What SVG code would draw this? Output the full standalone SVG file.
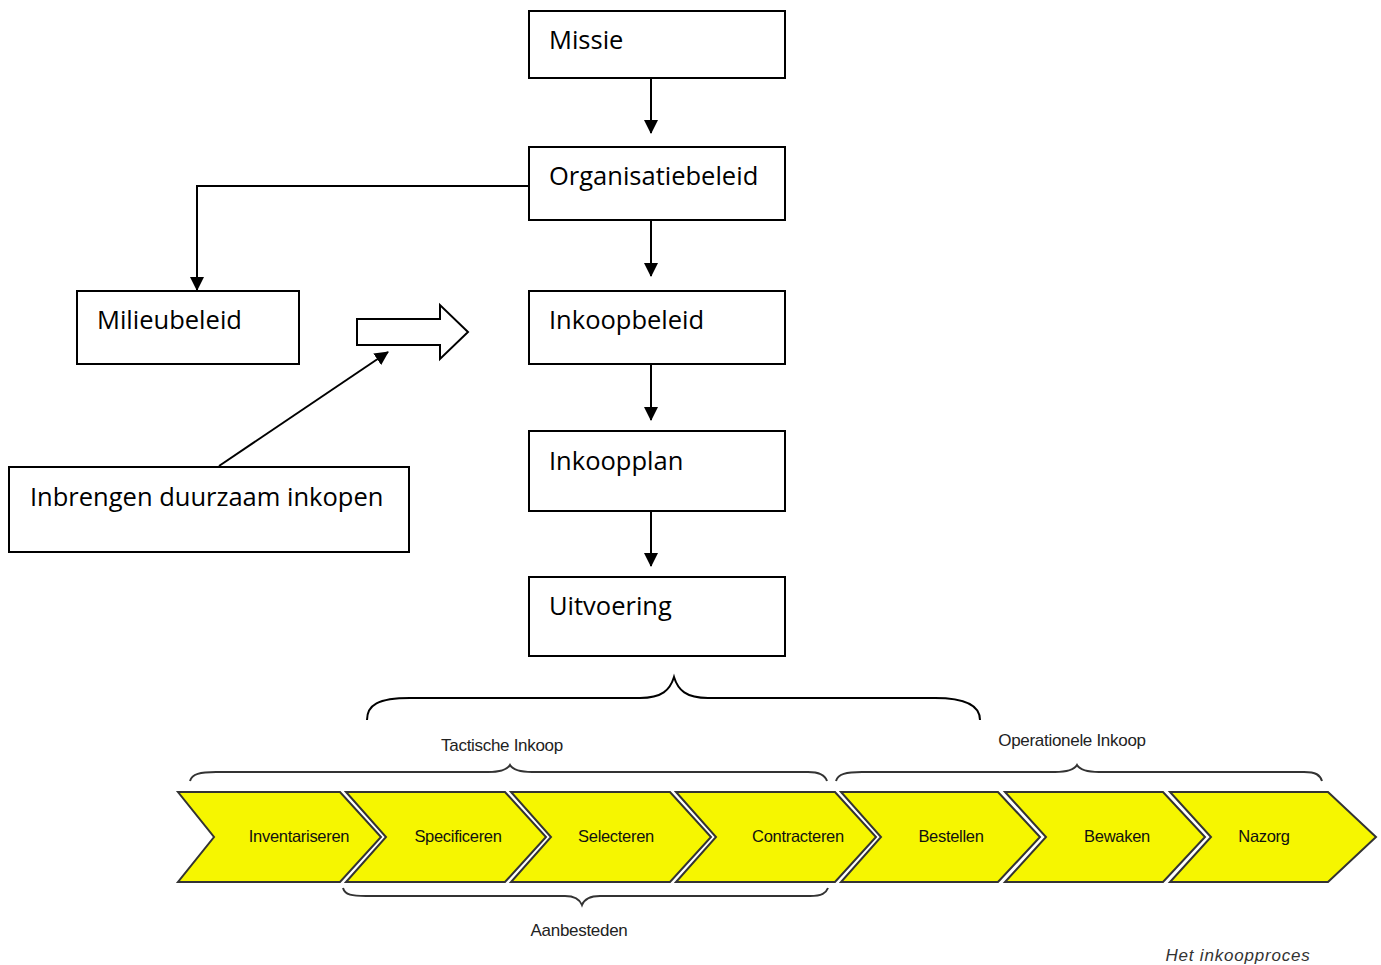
<svg xmlns="http://www.w3.org/2000/svg" width="1381" height="965" viewBox="0 0 1381 965">
<defs>
<style>
.box{fill:#fff;stroke:#000;stroke-width:2}
.t{font-family:"Open Sans","Liberation Sans",sans-serif;font-size:25.5px;fill:#000}
.c{fill:none;stroke:#000;stroke-width:2}
.chev{fill:#f6f600;stroke:#333;stroke-width:2;stroke-linejoin:miter}
.ct{font-family:"Liberation Sans",Arial,sans-serif;font-size:16.5px;fill:#111;text-anchor:middle;letter-spacing:-0.3px}
.br{fill:none;stroke:#333;stroke-width:2}
.lb{font-family:"Liberation Sans",Arial,sans-serif;font-size:17px;fill:#222;text-anchor:middle;letter-spacing:-0.3px}
</style>
<marker id="ah2" markerWidth="14" markerHeight="14" refX="13" refY="7" orient="auto" markerUnits="userSpaceOnUse" viewBox="0 0 14 14">
<path d="M0,0 L14,7 L0,14 z" fill="#000"/>
</marker>
</defs>
<rect width="1381" height="965" fill="#fff"/>

<g id="connectors">
<line class="c" x1="651" y1="78" x2="651" y2="133" marker-end="url(#ah2)"/>
<line class="c" x1="651" y1="220" x2="651" y2="276" marker-end="url(#ah2)"/>
<line class="c" x1="651" y1="364" x2="651" y2="420" marker-end="url(#ah2)"/>
<line class="c" x1="651" y1="511" x2="651" y2="566" marker-end="url(#ah2)"/>
<polyline class="c" points="529,186 197,186 197,290" marker-end="url(#ah2)"/>
<line class="c" x1="219" y1="466" x2="388" y2="352" marker-end="url(#ah2)"/>
</g>

<g id="block-arrow">
<path d="M357,319 L440,319 L440,305 L468,332 L440,359 L440,345 L357,345 Z" fill="#fff" stroke="#000" stroke-width="2"/>
</g>

<g id="missie"><rect class="box" x="529" y="11" width="256" height="67"/><text class="t" x="549" y="49">Missie</text></g>
<g id="organisatiebeleid"><rect class="box" x="529" y="147" width="256" height="73"/><text class="t" x="549" y="185">Organisatiebeleid</text></g>
<g id="inkoopbeleid"><rect class="box" x="529" y="291" width="256" height="73"/><text class="t" x="549" y="329">Inkoopbeleid</text></g>
<g id="inkoopplan"><rect class="box" x="529" y="431" width="256" height="80"/><text class="t" x="549" y="470">Inkoopplan</text></g>
<g id="uitvoering"><rect class="box" x="529" y="577" width="256" height="79"/><text class="t" x="549" y="615">Uitvoering</text></g>
<g id="milieubeleid"><rect class="box" x="77" y="291" width="222" height="73"/><text class="t" x="97" y="329">Milieubeleid</text></g>
<g id="inbrengen"><rect class="box" x="9" y="467" width="400" height="85"/><text class="t" x="30" y="506">Inbrengen duurzaam inkopen</text></g>

<g id="big-brace">
<path class="c" d="M367,720 C367,705 378,698 410,698 L640,698 C662,698 670,690 674,677 C678,690 686,698 708,698 L935,698 C966,698 980,706 980,720"/>
</g>

<g id="process">
<g id="brace-tactisch"><path class="br" d="M190,781 C192,774 200,772 216,772 L488,772 C500,772 507,770 510,765 C513,770 520,772 532,772 L808,772 C820,772 825,775 827,781"/>
<text class="lb" x="502" y="751">Tactische Inkoop</text></g>
<g id="brace-operationeel"><path class="br" d="M836,781 C838,774 846,772 862,772 L1055,772 C1067,772 1074,770 1077,765 C1080,770 1087,772 1099,772 L1304,772 C1316,772 1320,775 1322,781"/>
<text class="lb" x="1072" y="746">Operationele Inkoop</text></g>
<g id="brace-aanbesteden"><path class="br" d="M343,888 C345,895 352,896 366,896 L565,896 C575,896 580,900 582,905 C584,900 590,896 600,896 L810,896 C822,896 826,893 828,888"/>
<text class="lb" x="579" y="936">Aanbesteden</text></g>

<g id="chev-inventariseren"><path class="chev" d="M178,792 L340,792 L381,837 L340,882 L178,882 L214,837 Z"/><text class="ct" x="299" y="842">Inventariseren</text></g>
<g id="chev-specificeren"><path class="chev" d="M346,792 L505,792 L546,837 L505,882 L346,882 L386,837 Z"/><text class="ct" x="458" y="842">Specificeren</text></g>
<g id="chev-selecteren"><path class="chev" d="M511,792 L670,792 L711,837 L670,882 L511,882 L551,837 Z"/><text class="ct" x="616" y="842">Selecteren</text></g>
<g id="chev-contracteren"><path class="chev" d="M676,792 L835,792 L876,837 L835,882 L676,882 L716,837 Z"/><text class="ct" x="798" y="842">Contracteren</text></g>
<g id="chev-bestellen"><path class="chev" d="M841,792 L998,792 L1040,837 L998,882 L841,882 L881,837 Z"/><text class="ct" x="951" y="842">Bestellen</text></g>
<g id="chev-bewaken"><path class="chev" d="M1005,792 L1163,792 L1205,837 L1163,882 L1005,882 L1046,837 Z"/><text class="ct" x="1117" y="842">Bewaken</text></g>
<g id="chev-nazorg"><path class="chev" d="M1170,792 L1328,792 L1376,837 L1328,882 L1170,882 L1211,837 Z"/><text class="ct" x="1264" y="842">Nazorg</text></g>

<text x="1238" y="961" font-family="Liberation Sans,Arial,sans-serif" font-size="17" font-style="italic" fill="#333" text-anchor="middle" letter-spacing="0.8">Het inkoopproces</text>
</g>
</svg>
